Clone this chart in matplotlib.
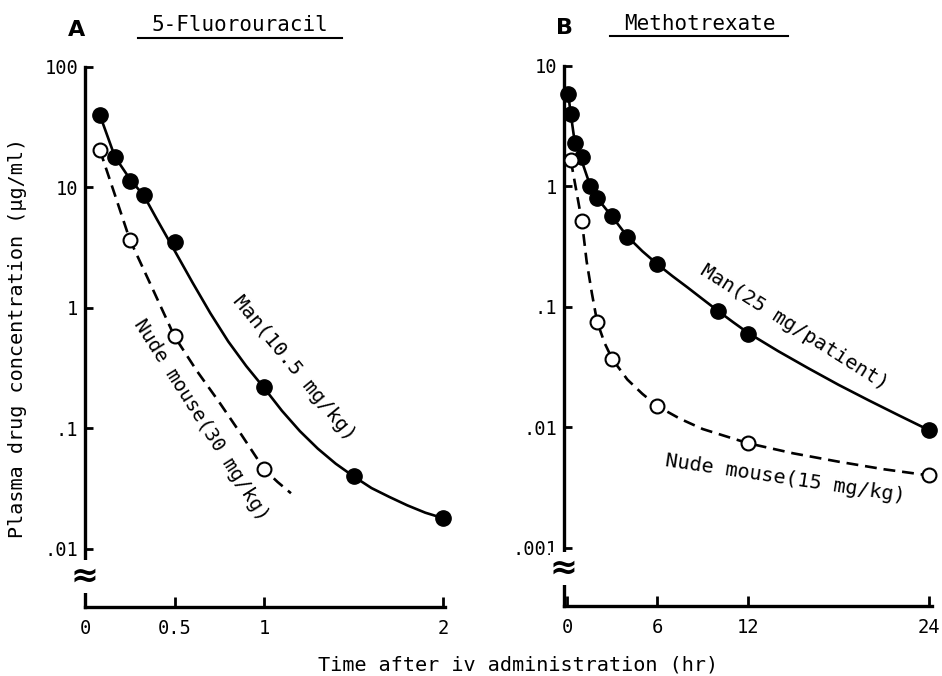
import matplotlib.pyplot as plt
import matplotlib.transforms as mtransforms
from matplotlib.lines import Line2D

plt.rcParams['font.family'] = ['DejaVu Sans Mono', 'DejaVu Sans']

# --- panel A: 5-Fluorouracil (time in hr, conc in ug/ml) ---
fu_man_t = [0.083, 0.167, 0.25, 0.33, 0.5, 1.0, 1.5, 2.0]
fu_man_c = [40, 18, 11.3, 8.7, 3.5, 0.22, 0.040, 0.018]
fu_mouse_t = [0.083, 0.25, 0.5, 1.0]
fu_mouse_c = [20.5, 3.7, 0.58, 0.046]
# fitted curves
fu_man_fit_t = [0.083, 0.167, 0.25, 0.33, 0.4, 0.5, 0.6, 0.7, 0.8, 0.9, 1.0,
                1.1, 1.2, 1.3, 1.4, 1.5, 1.6, 1.7, 1.8, 1.9, 2.0]
fu_man_fit_c = [40, 18, 11.8, 8.5, 5.5, 3.0, 1.63, 0.905, 0.527, 0.33, 0.217,
                0.14, 0.095, 0.068, 0.051, 0.040, 0.032, 0.027, 0.023, 0.020, 0.018]
fu_mouse_fit_t = [0.083, 0.167, 0.25, 0.375, 0.5, 0.625, 0.75, 0.875, 1.0, 1.075, 1.15]
fu_mouse_fit_c = [20.5, 8.7, 3.7, 1.47, 0.58, 0.30, 0.165, 0.088, 0.046, 0.036, 0.029]

# --- panel B: Methotrexate ---
mtx_man_t = [0.083, 0.25, 0.5, 1, 1.5, 2, 3, 4, 6, 10, 12, 24]
mtx_man_c = [5.8, 4.0, 2.3, 1.75, 1.0, 0.8, 0.57, 0.38, 0.226, 0.093, 0.060, 0.0095]
mtx_mouse_t = [0.25, 1, 2, 3, 6, 12, 24]
mtx_mouse_c = [1.65, 0.52, 0.075, 0.037, 0.015, 0.0074, 0.0040]
mtx_man_fit_t = [0.083, 0.25, 0.5, 1, 1.5, 2, 3, 4, 5, 6, 7, 8, 9, 10, 11, 12,
                 14, 16, 18, 20, 22, 24]
mtx_man_fit_c = [5.8, 4.0, 2.4, 1.6, 1.05, 0.8, 0.56, 0.385, 0.29, 0.226, 0.18, 0.145,
                 0.116, 0.093, 0.075, 0.061, 0.043, 0.031, 0.0226, 0.0168, 0.0126, 0.0095]
mtx_mouse_fit_t = [0.25, 0.6, 1.0, 1.3, 1.65, 2.0, 2.5, 3, 4, 5, 6, 7.5, 9, 12, 15, 18, 21, 24]
mtx_mouse_fit_c = [1.65, 0.95, 0.5, 0.24, 0.13, 0.075, 0.05, 0.037, 0.025, 0.019, 0.015,
                   0.0118, 0.0097, 0.0074, 0.0061, 0.0052, 0.0045, 0.0040]

fig = plt.figure(figsize=(9.42, 6.76), dpi=100)
axA = fig.add_axes([0.0902, 0.1021, 0.3822, 0.7988])
axB = fig.add_axes([0.5987, 0.1036, 0.3907, 0.7988])


def style_axis(ax, yticks, ylabels, xticks, xlabels, brk):
    ax.set_yscale('log')
    for s in ['top', 'right']:
        ax.spines[s].set_visible(False)
    for s in ['left', 'bottom']:
        ax.spines[s].set_linewidth(2.4)
    ax.set_yticks(yticks, ylabels)
    ax.minorticks_off()
    ax.set_xticks(xticks, xlabels)
    ax.tick_params(axis='y', direction='in', length=6, width=2, pad=5, labelsize=13.5)
    ax.tick_params(axis='x', direction='in', length=7, width=2, pad=9, labelsize=13.5)
    # axis break mark on the y axis
    tr = mtransforms.blended_transform_factory(ax.transAxes, ax.transData)
    ax.text(0, brk, '\u2248', transform=tr, ha='center', va='center', fontsize=24,
            family='DejaVu Sans', fontweight='bold', clip_on=False, zorder=10,
            bbox=dict(fc='white', ec='none', pad=0))


def draw(ax, fit_t, fit_c, t, c, filled, dashed):
    line, = ax.plot(fit_t, fit_c, color='black', lw=1.9, clip_on=False)
    if dashed:
        line.set_dashes((4.5, 2.6))
    if filled:
        ax.plot(t, c, 'o', ms=11, color='black', clip_on=False, zorder=5)
    else:
        ax.plot(t, c, 'o', ms=10, mfc='white', mec='black', mew=1.5, clip_on=False, zorder=5)


draw(axA, fu_man_fit_t, fu_man_fit_c, fu_man_t, fu_man_c, True, False)
draw(axA, fu_mouse_fit_t, fu_mouse_fit_c, fu_mouse_t, fu_mouse_c, False, True)
axA.set_xlim(0, 2.01)
axA.set_ylim(0.0033, 100)
style_axis(axA, [0.01, 0.1, 1, 10, 100], ['.01', '.1', '1', '10', '100'],
           [0, 0.5, 1, 2], ['0', '0.5', '1', '2'], 0.0059)

draw(axB, mtx_man_fit_t, mtx_man_fit_c, mtx_man_t, mtx_man_c, True, False)
draw(axB, mtx_mouse_fit_t, mtx_mouse_fit_c, mtx_mouse_t, mtx_mouse_c, False, True)
axB.set_xlim(-0.2, 24.2)
axB.set_ylim(3.3e-4, 10)
style_axis(axB, [0.001, 0.01, 0.1, 1, 10], ['.001', '.01', '.1', '1', '10'],
           [0, 6, 12, 24], ['0', '6', '12', '24'], 6.8e-4)

# curve labels
axA.text(1.17, 0.316, 'Man(10.5 mg/kg)', rotation=-50.5, rotation_mode='anchor',
         ha='center', va='center', fontsize=14.5)
axA.text(0.65, 0.118, 'Nude mouse(30 mg/kg)', rotation=-57.5, rotation_mode='anchor',
         ha='center', va='center', fontsize=14)
axB.text(15.1, 0.068, 'Man(25 mg/patient)', rotation=-32.3, rotation_mode='anchor',
         ha='center', va='center', fontsize=14.5)
axB.text(14.5, 0.0038, 'Nude mouse(15 mg/kg)', rotation=-8.5, rotation_mode='anchor',
         ha='center', va='center', fontsize=14.5)

# panel letters and drug titles (underlined)
W, H = 942, 676
fig.text(77 / W, 1 - 30 / H, 'A', family='DejaVu Sans', fontweight='bold', fontsize=16,
         ha='center', va='center')
fig.text(565 / W, 1 - 28 / H, 'B', family='DejaVu Sans', fontweight='bold', fontsize=16,
         ha='center', va='center')
fig.text(240 / W, 1 - 25 / H, '5-Fluorouracil', fontsize=15, ha='center', va='center')
fig.text(700 / W, 1 - 24 / H, 'Methotrexate', fontsize=15, ha='center', va='center')
fig.add_artist(Line2D([138 / W, 342 / W], [1 - 38 / H, 1 - 38 / H], color='black', lw=1.5))
fig.add_artist(Line2D([610 / W, 788 / W], [1 - 36 / H, 1 - 36 / H], color='black', lw=1.5))

fig.text(18 / W, 1 - 338 / H, 'Plasma drug concentration (\u03bcg/ml)', rotation=90,
         fontsize=14.5, ha='center', va='center')
fig.text(518 / W, 1 - 665 / H, 'Time after iv administration (hr)', fontsize=14.5,
         ha='center', va='center')

fig.savefig('out.png', dpi=100)
